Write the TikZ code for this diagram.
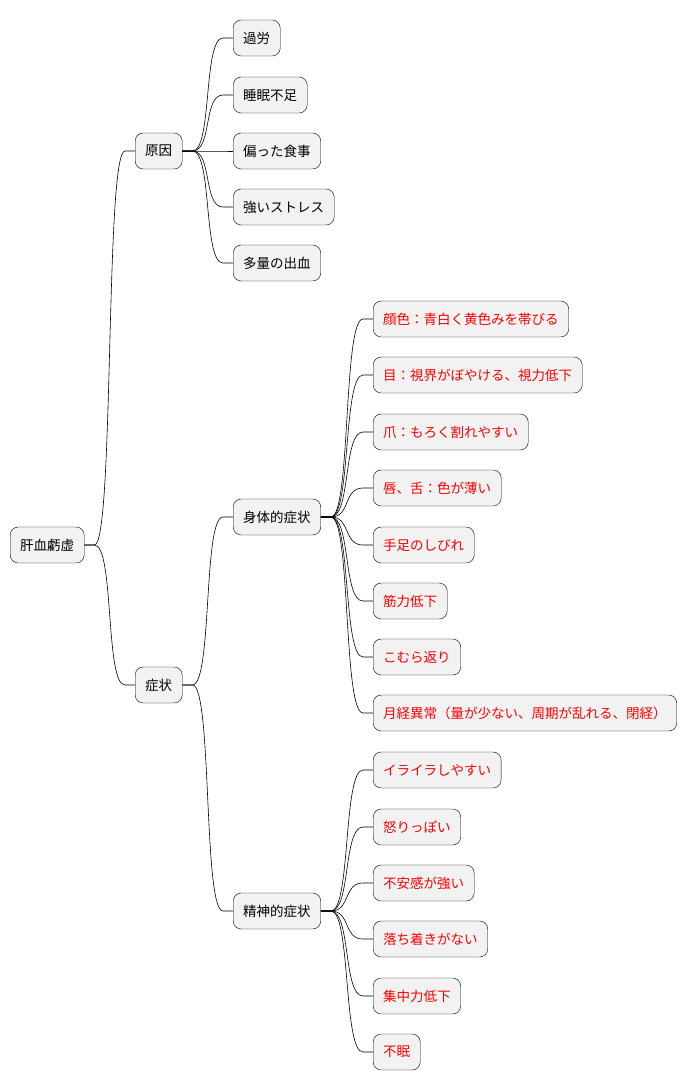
\documentclass[tikz,border=0pt]{standalone}
\usepackage{fontspec}
\setmainfont{Noto Sans CJK JP}
\begin{document}
\begin{tikzpicture}[x=1pt,y=-1pt,
  box/.style={draw=black,fill=black!5,rounded corners=8pt,minimum height=36pt,inner xsep=10pt,anchor=west,font=\fontsize{13.5pt}{15pt}\selectfont},
  red/.style={box,text=red},
  conn/.style={draw=black,line width=0.6pt}]
\useasboundingbox (0,0) rectangle (698,1090);
\node[box] (root) at (10,545) {肝血虧虚};
\node[box] (c) at (135,151) {原因};
\node[box] (s) at (135,685) {症状};
\node[box] (c1) at (233,38) {過労};
\node[box] (c2) at (233,95) {睡眠不足};
\node[box] (c3) at (233,151) {偏った食事};
\node[box] (c4) at (233,207) {強いストレス};
\node[box] (c5) at (233,263) {多量の出血};
\node[box] (b) at (233,517) {身体的症状};
\node[box] (m) at (233,911) {精神的症状};
\node[red] (b1) at (373,319) {顔色：青白く黄色みを帯びる};
\node[red] (b2) at (373,375) {目：視界がぼやける、視力低下};
\node[red] (b3) at (373,432) {爪：もろく割れやすい};
\node[red] (b4) at (373,488) {唇、舌：色が薄い};
\node[red] (b5) at (373,545) {手足のしびれ};
\node[red] (b6) at (373,601) {筋力低下};
\node[red] (b7) at (373,657) {こむら返り};
\node[red] (b8) at (373,713) {月経異常（量が少ない、周期が乱れる、閉経）};
\node[red] (m1) at (373,770) {イライラしやすい};
\node[red] (m2) at (373,827) {怒りっぽい};
\node[red] (m3) at (373,883) {不安感が強い};
\node[red] (m4) at (373,939) {落ち着きがない};
\node[red] (m5) at (373,996) {集中力低下};
\node[red] (m6) at (373,1052) {不眠};
\foreach \p/\k in {root/c,root/s,c/c1,c/c2,c/c3,c/c4,c/c5,s/b,s/m,b/b1,b/b2,b/b3,b/b4,b/b5,b/b6,b/b7,b/b8,m/m1,m/m2,m/m3,m/m4,m/m5,m/m6}
  \draw[conn] (\p.east) -- ++(10,0) .. controls +(20,0) and +(-20,0) .. ([xshift=-10pt]\k.west) -- (\k.west);
\end{tikzpicture}
\end{document}
